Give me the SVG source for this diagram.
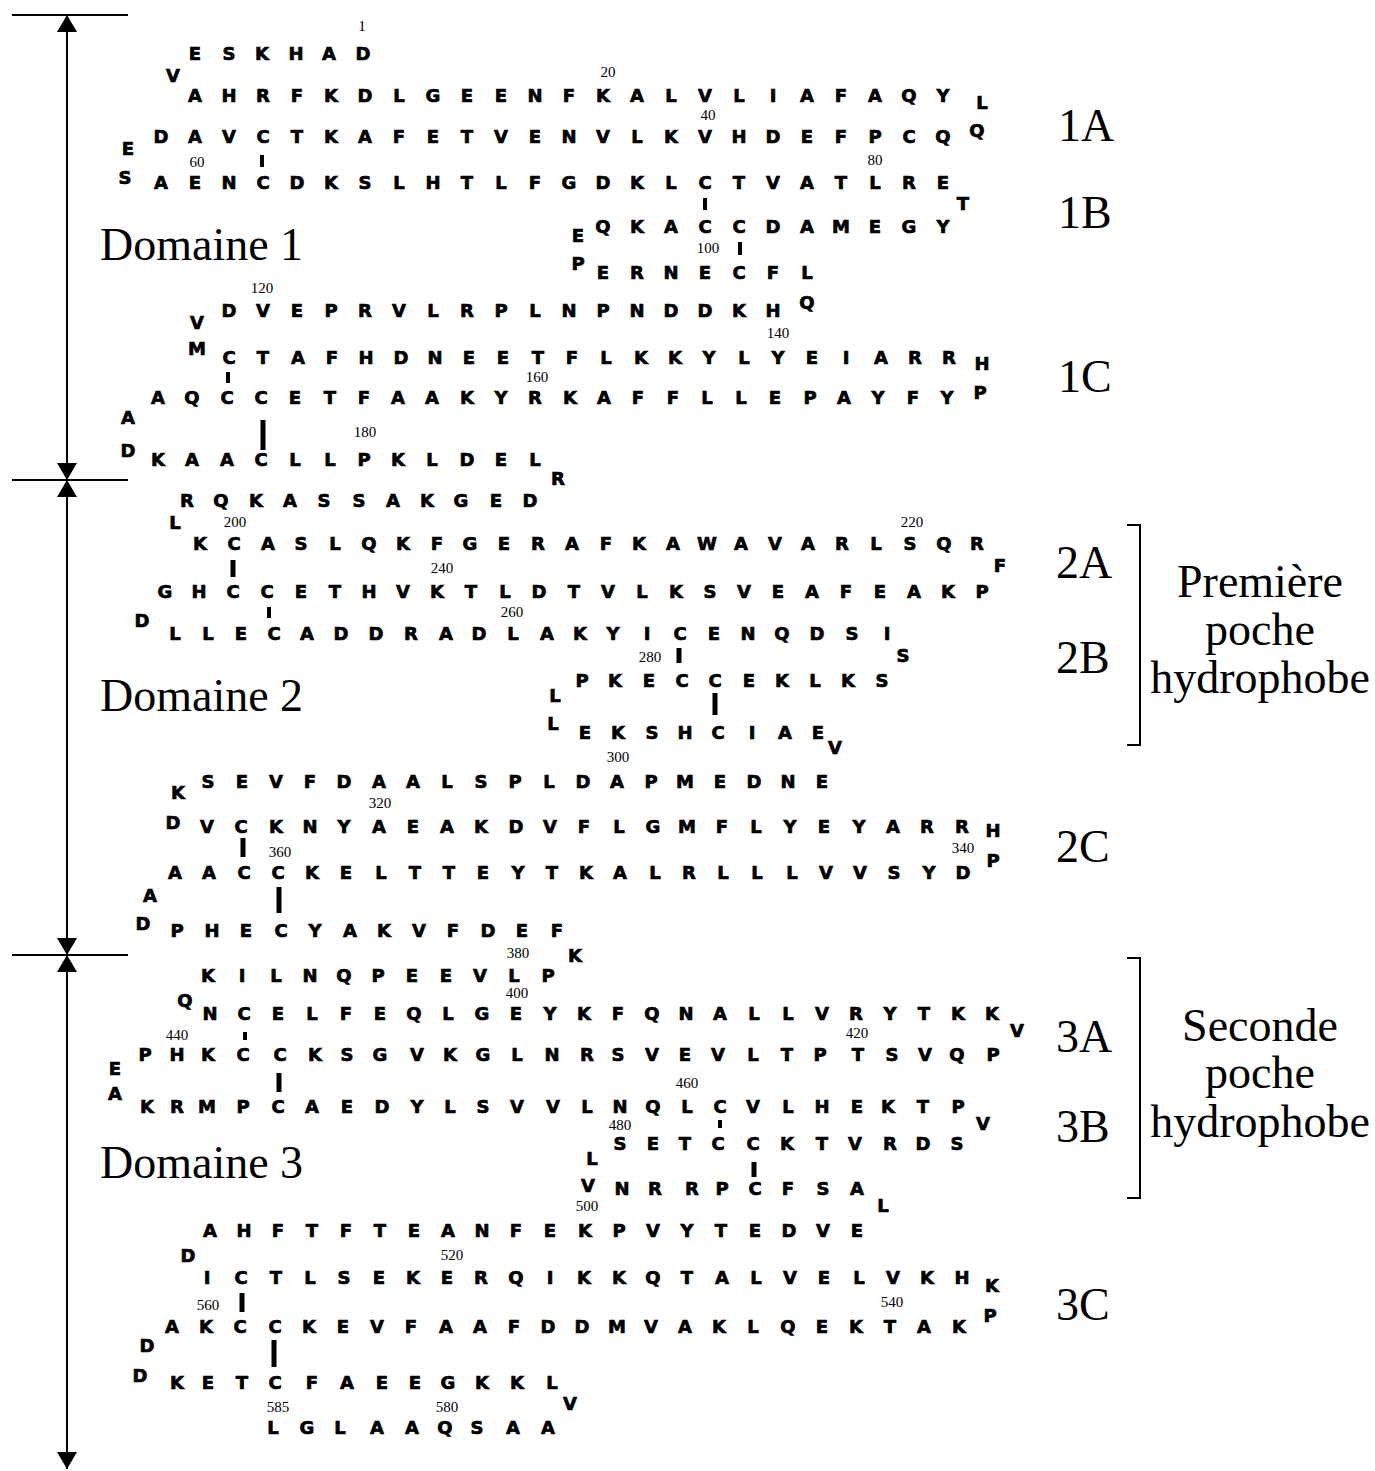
<svg xmlns="http://www.w3.org/2000/svg" width="1375" height="1471" viewBox="0 0 1375 1471">
<style>
.aa{font-family:"DejaVu Sans",sans-serif;font-weight:bold;font-size:18px;text-anchor:middle;fill:#000;stroke:#000;stroke-width:0.7}
.num{font-family:"Liberation Serif",serif;font-size:15px;text-anchor:middle;fill:#000}
.lbl{font-family:"Liberation Serif",serif;font-size:46px;fill:#000}
.ctr{text-anchor:middle}
.ss{fill:#000}
.ln{stroke:#000;stroke-width:2;fill:none}
</style>
<defs>
<marker id="ah" viewBox="0 0 17 20" refX="17" refY="10" markerWidth="17" markerHeight="20" markerUnits="userSpaceOnUse" orient="auto-start-reverse">
<path d="M0,0 L17,10 L0,20 z" fill="#000"/>
</marker>
</defs>
<rect width="1375" height="1471" fill="#fff"/>

<g id="scale">
<line class="ln" x1="12" y1="15" x2="128" y2="15"/>
<line class="ln" x1="12" y1="480" x2="128" y2="480"/>
<line class="ln" x1="12" y1="955" x2="128" y2="955"/>
<line class="ln" x1="67" y1="15" x2="67" y2="480" marker-start="url(#ah)" marker-end="url(#ah)"/>
<line class="ln" x1="67" y1="480" x2="67" y2="955" marker-start="url(#ah)" marker-end="url(#ah)"/>
<line class="ln" x1="67" y1="955" x2="67" y2="1469" marker-start="url(#ah)" marker-end="url(#ah)"/>
</g>

<g id="brackets">
<path class="ln" d="M1127,525 H1140 V745 H1127"/>
<path class="ln" d="M1127,958 H1140 V1198 H1127"/>
</g>

<g id="bonds">
<rect class="ss" x="260" y="155" width="4" height="12"/>
<rect class="ss" x="703" y="198" width="4" height="12"/>
<rect class="ss" x="738" y="242" width="4" height="13"/>
<rect class="ss" x="226" y="372" width="4" height="11"/>
<rect class="ss" x="260.5" y="420" width="5" height="30"/>
<rect class="ss" x="230.5" y="560" width="5" height="17"/>
<rect class="ss" x="267" y="607" width="4" height="11"/>
<rect class="ss" x="676.5" y="648" width="5" height="15"/>
<rect class="ss" x="712.5" y="693" width="5" height="22"/>
<rect class="ss" x="240.5" y="838" width="5" height="19"/>
<rect class="ss" x="276.5" y="887" width="5" height="26"/>
<rect class="ss" x="243" y="1032" width="4" height="8"/>
<rect class="ss" x="276.5" y="1073" width="5" height="19"/>
<rect class="ss" x="718" y="1120" width="4" height="8"/>
<rect class="ss" x="751.5" y="1162" width="5" height="15"/>
<rect class="ss" x="239.5" y="1293" width="5" height="19"/>
<rect class="ss" x="271.5" y="1340" width="5" height="27"/>
</g>

<g id="domain1">
<text class="aa" x="195 229 262 296 329 363" y="60">ESKHAD</text>
<text class="aa" x="173" y="82">V</text>
<text class="aa" x="195 229 263 297 331 365 399 433 467 501 535 569 603 637 671 705 739 773 807 841 875 909 943" y="102">AHRFKDLGEENFKALVLIAFAQY</text>
<text class="aa" x="982" y="109">L</text>
<text class="aa" x="977" y="137">Q</text>
<text class="aa" x="161 195 229 263 297 331 365 399 433 467 501 535 569 603 637 671 705 739 773 807 841 875 909 943" y="143">DAVCTKAFETVENVLKVHDEFPCQ</text>
<text class="aa" x="128" y="155">E</text>
<text class="aa" x="125" y="184">S</text>
<text class="aa" x="161 195 229 263 297 331 365 399 433 467 501 535 569 603 637 671 705 739 773 807 841 875 909 943" y="189">AENCDKSLHTLFGDKLCTVATLRE</text>
<text class="aa" x="963" y="210">T</text>
<text class="aa" x="603 637 671 705 739 773 807 841 875 909 943" y="233">QKACCDAMEGY</text>
<text class="aa" x="578" y="242">E</text>
<text class="aa" x="578" y="270">P</text>
<text class="aa" x="603 637 671 705 739 773 807" y="279">ERNECFL</text>
<text class="aa" x="807" y="309">Q</text>
<text class="aa" x="229 263 297 331 365 399 433 467 501 535 569 603 637 671 705 739 773" y="317">DVEPRVLRPLNPNDDKH</text>
<text class="aa" x="197" y="329">V</text>
<text class="aa" x="197" y="355">M</text>
<text class="aa" x="229 263 298 332 366 401 435 469 503 538 572 606 641 675 709 744 778 812 846 881 915 949" y="364">CTAFHDNEETFLKKYLYEIARR</text>
<text class="aa" x="982" y="370">H</text>
<text class="aa" x="980" y="399">P</text>
<text class="aa" x="158 192 227 261 295 330 364 398 432 467 501 535 570 604 638 673 707 741 775 810 844 878 913 947" y="404">AQCCETFAAKYRKAFFLLEPAYFY</text>
<text class="aa" x="128" y="424">A</text>
<text class="aa" x="128" y="457">D</text>
<text class="aa" x="158 192 227 261 295 330 364 398 432 467 501 535" y="466">KAACLLPKLDEL</text>
<text class="aa" x="558" y="485">R</text>
<text class="num" x="362" y="31">1</text>
<text class="num" x="608" y="77">20</text>
<text class="num" x="708" y="120">40</text>
<text class="num" x="197" y="167">60</text>
<text class="num" x="875" y="165">80</text>
<text class="num" x="708" y="253">100</text>
<text class="num" x="262" y="293">120</text>
<text class="num" x="778" y="338">140</text>
<text class="num" x="537" y="382">160</text>
<text class="num" x="365" y="437">180</text>
</g>

<g id="domain2">
<text class="aa" x="187 221 256 290 324 359 393 427 461 496 530" y="507">RQKASSAKGED</text>
<text class="aa" x="175" y="529">L</text>
<text class="aa" x="200 234 268 301 335 369 403 437 470 504 538 572 606 639 673 707 741 775 808 842 876 910 944 977" y="550">KCASLQKFGERAFKAWAVARLSQR</text>
<text class="aa" x="1000" y="572">F</text>
<text class="aa" x="165 199 233 267 301 335 369 403 437 471 505 539 574 608 642 676 710 744 778 812 846 880 914 948 982" y="598">GHCCETHVKTLDTVLKSVEAFEAKP</text>
<text class="aa" x="142" y="627">D</text>
<text class="aa" x="175 208 241 274 307 341 376 411 446 479 513 547 580 613 647 680 714 748 782 817 852 887" y="640">LLECADDRADLAKYICENQDSI</text>
<text class="aa" x="903" y="662">S</text>
<text class="aa" x="582 615 649 682 715 749 782 815 848 882" y="687">PKECCEKLKS</text>
<text class="aa" x="555" y="702">L</text>
<text class="aa" x="553" y="730">L</text>
<text class="aa" x="585 618 652 685 718 752 785 818" y="739">EKSHCIAE</text>
<text class="aa" x="835" y="754">V</text>
<text class="aa" x="208 242 276 310 344 379 413 447 481 515 549 583 617 651 685 720 754 788 822" y="788">SEVFDAALSPLDAPMEDNE</text>
<text class="aa" x="178" y="799">K</text>
<text class="aa" x="173" y="829">D</text>
<text class="aa" x="207 241 276 310 344 379 413 447 481 516 550 584 619 653 687 722 756 790 824 859 893 927 962" y="833">VCKNYAEAKDVFLGMFLYEYARR</text>
<text class="aa" x="993" y="837">H</text>
<text class="aa" x="993" y="867">P</text>
<text class="aa" x="175 209 244 278 312 346 381 415 449 483 518 552 586 620 655 689 723 757 792 826 860 894 929 963" y="879">AACCKELTTEYTKALRLLLVVSYD</text>
<text class="aa" x="150" y="902">A</text>
<text class="aa" x="143" y="930">D</text>
<text class="aa" x="177 212 246 281 315 350 384 419 453 488 522 557" y="937">PHECYAKVFDEF</text>
<text class="aa" x="575" y="962">K</text>
<text class="num" x="235" y="527">200</text>
<text class="num" x="912" y="527">220</text>
<text class="num" x="442" y="573">240</text>
<text class="num" x="512" y="617">260</text>
<text class="num" x="650" y="662">280</text>
<text class="num" x="618" y="762">300</text>
<text class="num" x="380" y="808">320</text>
<text class="num" x="963" y="853">340</text>
<text class="num" x="280" y="857">360</text>
</g>

<g id="domain3">
<text class="aa" x="208 242 276 310 344 378 412 446 480 514 548" y="982">KILNQPEEVLP</text>
<text class="aa" x="185" y="1007">Q</text>
<text class="aa" x="210 244 278 312 346 380 414 448 482 516 550 584 618 652 686 720 754 788 822 856 890 924 958 992" y="1020">NCELFEQLGEYKFQNALLVRYTKK</text>
<text class="aa" x="1017" y="1037">V</text>
<text class="aa" x="145 177 208 243 280 315 347 380 417 450 483 517 552 587 618 652 685 718 753 787 820 858 892 925 957 993" y="1061">PHKCCKSGVKGLNRSVEVLTPTSVQP</text>
<text class="aa" x="115" y="1075">E</text>
<text class="aa" x="115" y="1100">A</text>
<text class="aa" x="147 177 207 243 278 312 347 382 417 450 483 517 553 587 620 653 687 720 753 788 822 857 888 923 958" y="1113">KRMPCAEDYLSVVLNQLCVLHEKTP</text>
<text class="aa" x="983" y="1130">V</text>
<text class="aa" x="620 653 685 718 753 787 822 855 890 923 957" y="1150">SETCCKTVRDS</text>
<text class="aa" x="592" y="1165">L</text>
<text class="aa" x="588" y="1192">V</text>
<text class="aa" x="622 655 692 722 755 788 823 857" y="1195">NRRPCFSA</text>
<text class="aa" x="883" y="1212">L</text>
<text class="aa" x="210 244 278 312 346 380 414 448 482 516 550 585 619 653 687 721 755 789 823 857" y="1237">AHFTFTEANFEKPVYTEDVE</text>
<text class="aa" x="188" y="1262">D</text>
<text class="aa" x="207 241 276 310 344 379 413 447 481 516 550 584 619 653 687 722 756 790 824 859 893 927 962" y="1284">ICTLSEKERQIKKQTALVELVKH</text>
<text class="aa" x="992" y="1292">K</text>
<text class="aa" x="990" y="1322">P</text>
<text class="aa" x="172 206 240 275 309 343 377 411 446 480 514 548 582 617 651 685 719 753 788 822 856 890 924 959" y="1333">AKCCKEVFAAFDDMVAKLQEKTAK</text>
<text class="aa" x="147" y="1352">D</text>
<text class="aa" x="140" y="1382">D</text>
<text class="aa" x="177 208 242 275 312 347 382 415 448 482 517 552" y="1389">KETCFAEEGKKL</text>
<text class="aa" x="570" y="1410">V</text>
<text class="aa" x="273 307 340 377 412 445 477 513 548" y="1434">LGLAAQSAA</text>
<text class="num" x="518" y="958">380</text>
<text class="num" x="517" y="998">400</text>
<text class="num" x="857" y="1038">420</text>
<text class="num" x="177" y="1040">440</text>
<text class="num" x="687" y="1088">460</text>
<text class="num" x="620" y="1130">480</text>
<text class="num" x="587" y="1211">500</text>
<text class="num" x="452" y="1260">520</text>
<text class="num" x="892" y="1307">540</text>
<text class="num" x="208" y="1310">560</text>
<text class="num" x="447" y="1412">580</text>
<text class="num" x="278" y="1412">585</text>
</g>

<g id="labels">
<text class="lbl" x="100" y="260">Domaine 1</text>
<text class="lbl" x="100" y="711">Domaine 2</text>
<text class="lbl" x="100" y="1178">Domaine 3</text>
<text class="lbl" x="1058" y="141">1A</text>
<text class="lbl" x="1058" y="228">1B</text>
<text class="lbl" x="1058" y="392">1C</text>
<text class="lbl" x="1056" y="578">2A</text>
<text class="lbl" x="1056" y="673">2B</text>
<text class="lbl" x="1056" y="862">2C</text>
<text class="lbl" x="1056" y="1052">3A</text>
<text class="lbl" x="1056" y="1142">3B</text>
<text class="lbl" x="1056" y="1320">3C</text>
<text class="lbl ctr" x="1260" y="597">Première</text>
<text class="lbl ctr" x="1260" y="645">poche</text>
<text class="lbl ctr" x="1260" y="693">hydrophobe</text>
<text class="lbl ctr" x="1260" y="1041">Seconde</text>
<text class="lbl ctr" x="1260" y="1088">poche</text>
<text class="lbl ctr" x="1260" y="1137">hydrophobe</text>
</g>
</svg>
